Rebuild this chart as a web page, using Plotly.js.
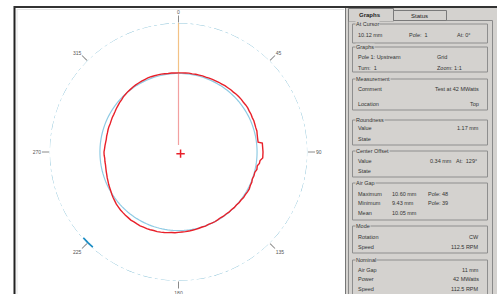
<!DOCTYPE html>
<html>
<head>
<meta charset="utf-8">
<script src="https://cdn.plot.ly/plotly-3.0.1.min.js"></script>
<style>html,body{margin:0;padding:0;background:#fff;}#chart{width:497px;height:294px;}</style>
</head>
<body>
<div id="chart"></div>
<script>
// ---- data ----
var profileAngles = [0,2.5,5,7.5,10,12.5,15,17.5,20,22.5,25,27.5,30,32.5,35,37.5,40,42.5,45,47.5,50,52.5,55,57.5,60,62.5,65,67.5,70,72.5,75,77.5,80,83,84,90,94,96,98,100,102.5,105,107.5,110,112.5,115,117.5,120,122.5,125,127.5,130,132.5,135,137.5,140,142.5,145,147.5,150,152.5,155,157.5,160,162.5,165,167.5,170,172.5,175,177.5,180,182.5,185,187.5,190,192.5,195,197.5,200,202.5,205,207.5,210,212.5,215,217.5,220,222.5,225,227.5,230,232.5,235,237.5,240,242.5,245,247.5,250,252.5,255,257.5,260,262.5,265,267.5,270,272.5,275,277.5,280,282.5,285,287.5,290,292.5,295,297.5,300,302.5,305,307.5,310,312.5,315,317.5,320,322.5,325,327.5,330,332.5,335,337.5,340,342.5,345,347.5,350,352.5,355,357.5,360];
var profileGap = [10.12,10.13,10.14,10.17,10.15,10.18,10.18,10.21,10.19,10.24,10.25,10.27,10.30,10.31,10.35,10.36,10.40,10.39,10.44,10.47,10.48,10.46,10.49,10.50,10.45,10.46,10.41,10.43,10.39,10.36,10.38,10.31,10.27,10.26,10.78,10.81,10.80,10.49,10.45,10.23,10.27,10.10,10.12,10.05,10.15,10.13,10.21,10.19,10.14,10.16,10.09,10.10,10.04,10.07,10.01,10.04,10.00,10.03,9.98,10.02,10.06,10.05,10.02,10.08,10.06,10.10,10.14,10.17,10.20,10.23,10.25,10.28,10.33,10.34,10.40,10.45,10.50,10.55,10.53,10.58,10.62,10.60,10.64,10.62,10.60,10.63,10.58,10.56,10.52,10.49,10.42,10.38,10.28,10.20,10.10,10.00,9.92,9.85,9.76,9.70,9.62,9.57,9.52,9.48,9.49,9.47,9.52,9.53,9.47,9.44,9.40,9.38,9.41,9.41,9.45,9.47,9.46,9.50,9.55,9.57,9.62,9.70,9.76,9.84,9.88,9.98,10.02,10.08,10.10,10.14,10.18,10.19,10.22,10.23,10.25,10.25,10.22,10.21,10.20,10.17,10.13,10.14,10.12,10.12];
var meanGap = 10.05;
var outerRadius = 16.5;
var cursorAngle = 0;
var cursorGap = 10.12;
var offsetValue = 0.34;
var offsetAngle = 129;
var poleMarkAngles = [222,223.5,225,226.5,228];
var tickAngles = [0,45,90,135,180,225,270,315];
var tickLabels = ["0","45","90","135","180","225","270","315"];

var panelTitles = ["At Cursor","Graphs","Measurement","Roundness","Center Offset","Air Gap","Mode","Nominal"];
var panelRowLabels = ["10.12 mm","Pole 1: Upstream","Turn:  1","Comment","Location","Value","State","Value","State","Maximum","Minimum","Mean","Rotation","Speed","Air Gap","Power","Speed"];
var panelRowValues = ["","","","Test at 42 MWatts","Top","1.17 mm","","","","","","","CW","112.5 RPM","11 mm","42 MWatts","112.5 RPM"];
var panelMidTexts = [["Pole:  1",407,35],["At: 0\u00b0",455,35],["Grid",435,57],["Zoom: 1:1",435,68],["0.34 mm",428,161],["At:  129\u00b0",454,161],["10.60 mm",390,194],["Pole: 48",426,194],["9.43 mm",390,203],["Pole: 39",426,203],["10.05 mm",390,213]];

// ---- helpers for pixel placement ----
var W = 497, H = 294;
function px(x){return x/W;}
function py(y){return 1 - y/H;}

var full = [];
for (var a = 0; a <= 360; a += 2) full.push(a);

var traces = [
  {type:'scatterpolar', r: full.map(function(){return outerRadius;}), theta: full, mode:'lines',
   line:{color:'#8cc3d8', width:1, dash:'dashdot'}, hoverinfo:'skip'},
  {type:'scatterpolar', r: full.map(function(){return meanGap;}), theta: full, mode:'lines',
   line:{color:'#8fcbe4', width:1.2}, hoverinfo:'skip'},
  {type:'scatterpolar', r:[outerRadius, cursorGap], theta:[cursorAngle, cursorAngle], mode:'lines',
   line:{color:'#f3c285', width:1.2}},
  {type:'scatterpolar', r:[cursorGap, 0.9], theta:[cursorAngle, cursorAngle], mode:'lines',
   line:{color:'#f2a0a0', width:1.2}},
  {type:'scatterpolar', r: profileGap, theta: profileAngles, mode:'lines',
   line:{color:'#e8202a', width:1.4}},
  {type:'scatterpolar', r:[offsetValue], theta:[offsetAngle], mode:'markers',
   marker:{symbol:'cross-thin', size:6, line:{color:'#e8202a', width:1.5}}},
  {type:'scatterpolar', r: poleMarkAngles.map(function(){return outerRadius;}), theta: poleMarkAngles, mode:'lines',
   line:{color:'#1a8cc4', width:3.5}},
  {type:'scatterpolar', r:[outerRadius, outerRadius+1.0], theta:[225,225], mode:'lines', cliponaxis:false,
   line:{color:'#f09a8a', width:1}}
];

var shapes = [];
var annotations = [];
// plot frame
shapes.push({type:'line', xref:'paper', yref:'paper', x0:px(14.5), x1:px(14.5), y0:py(6), y1:py(294), line:{color:'#222', width:2}});
shapes.push({type:'line', xref:'paper', yref:'paper', x0:px(14), x1:px(497), y0:py(7), y1:py(7), line:{color:'#333', width:2}});
shapes.push({type:'line', xref:'paper', yref:'paper', x0:px(17), x1:px(17), y0:py(9), y1:py(294), line:{color:'#e4e4e4', width:1}});
shapes.push({type:'line', xref:'paper', yref:'paper', x0:px(17), x1:px(344), y0:py(9.5), y1:py(9.5), line:{color:'#e4e4e4', width:1}});
// panel background
shapes.push({type:'rect', xref:'paper', yref:'paper', x0:px(345), x1:px(497), y0:py(294), y1:py(8), fillcolor:'#d4d2cf', line:{width:0}});
shapes.push({type:'line', xref:'paper', yref:'paper', x0:px(345.5), x1:px(345.5), y0:py(8), y1:py(294), line:{color:'#777', width:1}});
// tab page border
shapes.push({type:'rect', xref:'paper', yref:'paper', x0:px(348.5), x1:px(492.5), y0:py(296), y1:py(20.5), line:{color:'#8a8a8a', width:1}, fillcolor:'rgba(0,0,0,0)'});
// tabs
shapes.push({type:'rect', xref:'paper', yref:'paper', x0:px(348.5), x1:px(393.5), y0:py(21), y1:py(8.5), fillcolor:'#d4d2cf', line:{color:'#7a7a7a', width:1}});
shapes.push({type:'rect', xref:'paper', yref:'paper', x0:px(393.5), x1:px(446.5), y0:py(20.5), y1:py(10.5), fillcolor:'#d4d2cf', line:{color:'#7a7a7a', width:1}});
shapes.push({type:'line', xref:'paper', yref:'paper', x0:px(349), x1:px(393), y0:py(20.5), y1:py(20.5), line:{color:'#d4d2cf', width:1.5}});
annotations.push({xref:'paper', yref:'paper', x:px(370), y:py(14.5), text:'<b>Graphs</b>', showarrow:false, xanchor:'center', yanchor:'middle', font:{family:'Liberation Sans, Arial', size:6, color:'#222'}});
annotations.push({xref:'paper', yref:'paper', x:px(419), y:py(15.5), text:'Status', showarrow:false, xanchor:'center', yanchor:'middle', font:{family:'Liberation Sans, Arial', size:6, color:'#222'}});

// group boxes
var boxTop = [24,47,79,120,151,183,226,260];
var boxBottom = [43,72,110,145,177,220,253,300];
for (var i = 0; i < panelTitles.length; i++) {
  shapes.push({type:'rect', xref:'paper', yref:'paper', x0:px(352.5), x1:px(487.5), y0:py(boxBottom[i]), y1:py(boxTop[i]), line:{color:'#8e8e8e', width:1}, fillcolor:'rgba(0,0,0,0)'});
  shapes.push({type:'rect', xref:'paper', yref:'paper', x0:px(353.5), x1:px(488.5), y0:py(boxBottom[i]+1), y1:py(boxTop[i]+1), line:{color:'#f2f2f2', width:0.6}, fillcolor:'rgba(0,0,0,0)', layer:'below'});
  annotations.push({xref:'paper', yref:'paper', x:px(355), y:py(boxTop[i]), text:panelTitles[i], showarrow:false, xanchor:'left', yanchor:'middle', bgcolor:'#d4d2cf', borderpad:0, font:{family:'Liberation Sans, Arial', size:5.5, color:'#333'}});
}
var rowY = [35,57,68,89,104,128,139,161,171,194,203,213,237,247,270,279,289];
for (var j = 0; j < panelRowLabels.length; j++) {
  annotations.push({xref:'paper', yref:'paper', x:px(356), y:py(rowY[j]), text:panelRowLabels[j], showarrow:false, xanchor:'left', yanchor:'middle', font:{family:'Liberation Sans, Arial', size:5.5, color:'#333'}});
  if (panelRowValues[j]) {
    annotations.push({xref:'paper', yref:'paper', x:px(481), y:py(rowY[j]), text:panelRowValues[j], showarrow:false, xanchor:'right', yanchor:'middle', font:{family:'Liberation Sans, Arial', size:5.5, color:'#333'}});
  }
}
panelMidTexts.forEach(function(t){
  annotations.push({xref:'paper', yref:'paper', x:px(t[1]), y:py(t[2]), text:t[0], showarrow:false, xanchor:'left', yanchor:'middle', font:{family:'Liberation Sans, Arial', size:5.5, color:'#333'}});
});

var cx = 178.5, cy = 152, R = 129;
var layout = {
  width: W, height: H,
  margin:{l:0,r:0,t:0,b:0},
  paper_bgcolor:'#ffffff',
  showlegend:false,
  polar:{
    domain:{x:[px(cx-R), px(cx+R)], y:[py(cy+R), py(cy-R)]},
    bgcolor:'rgba(0,0,0,0)',
    radialaxis:{visible:false, range:[0, outerRadius]},
    angularaxis:{direction:'clockwise', rotation:90, showgrid:false, showline:false,
      tickmode:'array', tickvals:tickAngles, ticktext:tickLabels,
      ticks:'outside', ticklen:7, tickcolor:'#8a8a8a', tickwidth:1,
      tickfont:{family:'Liberation Sans, Arial', size:5, color:'#555'}}
  },
  shapes: shapes,
  annotations: annotations
};
Plotly.newPlot('chart', traces, layout, {displayModeBar:false, staticPlot:true});
</script>
</body>
</html>
